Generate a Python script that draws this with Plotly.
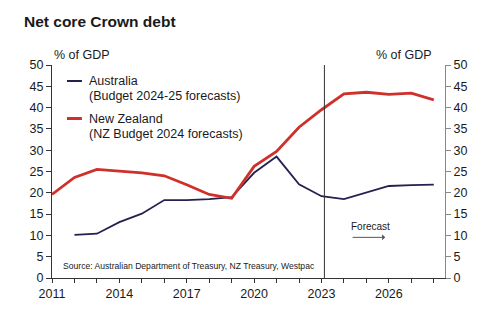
import plotly.graph_objects as go

years_au = [2012, 2013, 2014, 2015, 2016, 2017, 2018, 2019, 2020, 2021, 2022, 2023, 2024, 2025, 2026, 2027, 2028]
australia = [10.1, 10.4, 13.1, 15.1, 18.3, 18.3, 18.5, 19.0, 24.7, 28.5, 22.0, 19.2, 18.5, 20.1, 21.6, 21.8, 21.9]

years_nz = [2011, 2012, 2013, 2014, 2015, 2016, 2017, 2018, 2019, 2020, 2021, 2022, 2023, 2024, 2025, 2026, 2027, 2028]
new_zealand = [19.6, 23.6, 25.5, 25.1, 24.7, 24.0, 21.9, 19.6, 18.7, 26.2, 29.7, 35.4, 39.5, 43.2, 43.6, 43.1, 43.4, 41.8]

forecast_start = 2023.13
x_tickvals = [2011, 2014, 2017, 2020, 2023, 2026]
y_tickvals = [0, 5, 10, 15, 20, 25, 30, 35, 40, 45, 50]

NAVY = "#23214f"
RED = "#d0302a"
FONT = "Liberation Sans, Arial, sans-serif"

# plot area in pixels
L, R, T, B = 51.7, 445.5, 64.7, 278.0
W, H = R - L, B - T

def px(x):
    return (x - L) / W

def py(y):
    return (B - y) / H

fig = go.Figure()
fig.add_trace(go.Scatter(x=years_au, y=australia, mode="lines",
                         line=dict(color=NAVY, width=1.8), name="Australia", yaxis="y"))
fig.add_trace(go.Scatter(x=years_nz, y=new_zealand, mode="lines",
                         line=dict(color=RED, width=2.8), name="New Zealand", yaxis="y2"))

fig.add_shape(type="line", xref="x", yref="y", x0=forecast_start, x1=forecast_start, y0=0, y1=50,
              line=dict(color="#333333", width=1))

ann = []
def text(t, x, y, size=12.5, anchor="left", color="#1a1a1a", bold=False):
    ann.append(dict(text=f"<b>{t}</b>" if bold else t, xref="paper", yref="paper", x=px(x), y=py(y),
                    xanchor=anchor, yanchor="middle", showarrow=False,
                    font=dict(size=size, color=color, family=FONT)))

text("Net core Crown debt", 21.7, 21, size=15.5, bold=True, color="#1a1a1a")
text("% of GDP", 52, 55)
text("% of GDP", 434, 55, anchor="right")
text("Australia", 86.7, 80.7)
text("(Budget 2024-25 forecasts)", 86.7, 96.2)
text("New Zealand", 86.7, 118.3)
text("(NZ Budget 2024 forecasts)", 86.7, 134)
text("Source: Australian Department of Treasury, NZ Treasury, Westpac", 60.7, 266, size=8.6)
text("Forecast", 349.3, 226.7, size=10)

ann.append(dict(text="", xref="paper", yref="paper", x=px(385.5), y=py(237.3),
                axref="pixel", ayref="pixel", ax=-34, ay=0, showarrow=True,
                arrowhead=1, arrowsize=1, arrowwidth=1, arrowcolor="#555555"))

for yy, c in [(80.7, NAVY), (118.3, RED)]:
    fig.add_shape(type="line", xref="paper", yref="paper", x0=px(66.7), x1=px(81.7), y0=py(yy), y1=py(yy),
                  line=dict(color=c, width=2 if c == NAVY else 3))

fig.update_layout(
    width=498, height=330,
    margin=dict(l=L, r=498 - R, t=T, b=330 - B),
    paper_bgcolor="white", plot_bgcolor="white",
    showlegend=False,
    annotations=ann,
    font=dict(family=FONT, size=12.5, color="#1a1a1a"),
    xaxis=dict(range=[2011, 2028.5], tickvals=x_tickvals, ticks="outside", ticklen=4, tickcolor="#333",
               showline=True, linecolor="#333", linewidth=1, showgrid=False, zeroline=False,
               minor=dict(dtick=1, tick0=2011, ticks="outside", ticklen=4, tickcolor="#333", showgrid=False),
               tickfont=dict(size=12.5, color="#1a1a1a")),
    yaxis=dict(range=[0, 50], tickvals=y_tickvals, ticks="outside", ticklen=5, tickcolor="#333",
               showline=True, linecolor="#333", linewidth=1, showgrid=False, zeroline=False,
               tickfont=dict(size=12.5, color="#1a1a1a")),
    yaxis2=dict(range=[0, 50], tickvals=y_tickvals, ticks="outside", ticklen=5, tickcolor="#888",
                overlaying="y", side="right", showline=True, linecolor="#888", linewidth=1.2,
                showgrid=False, zeroline=False, tickfont=dict(size=12.5, color="#1a1a1a")),
)

fig.write_html("out.html")
